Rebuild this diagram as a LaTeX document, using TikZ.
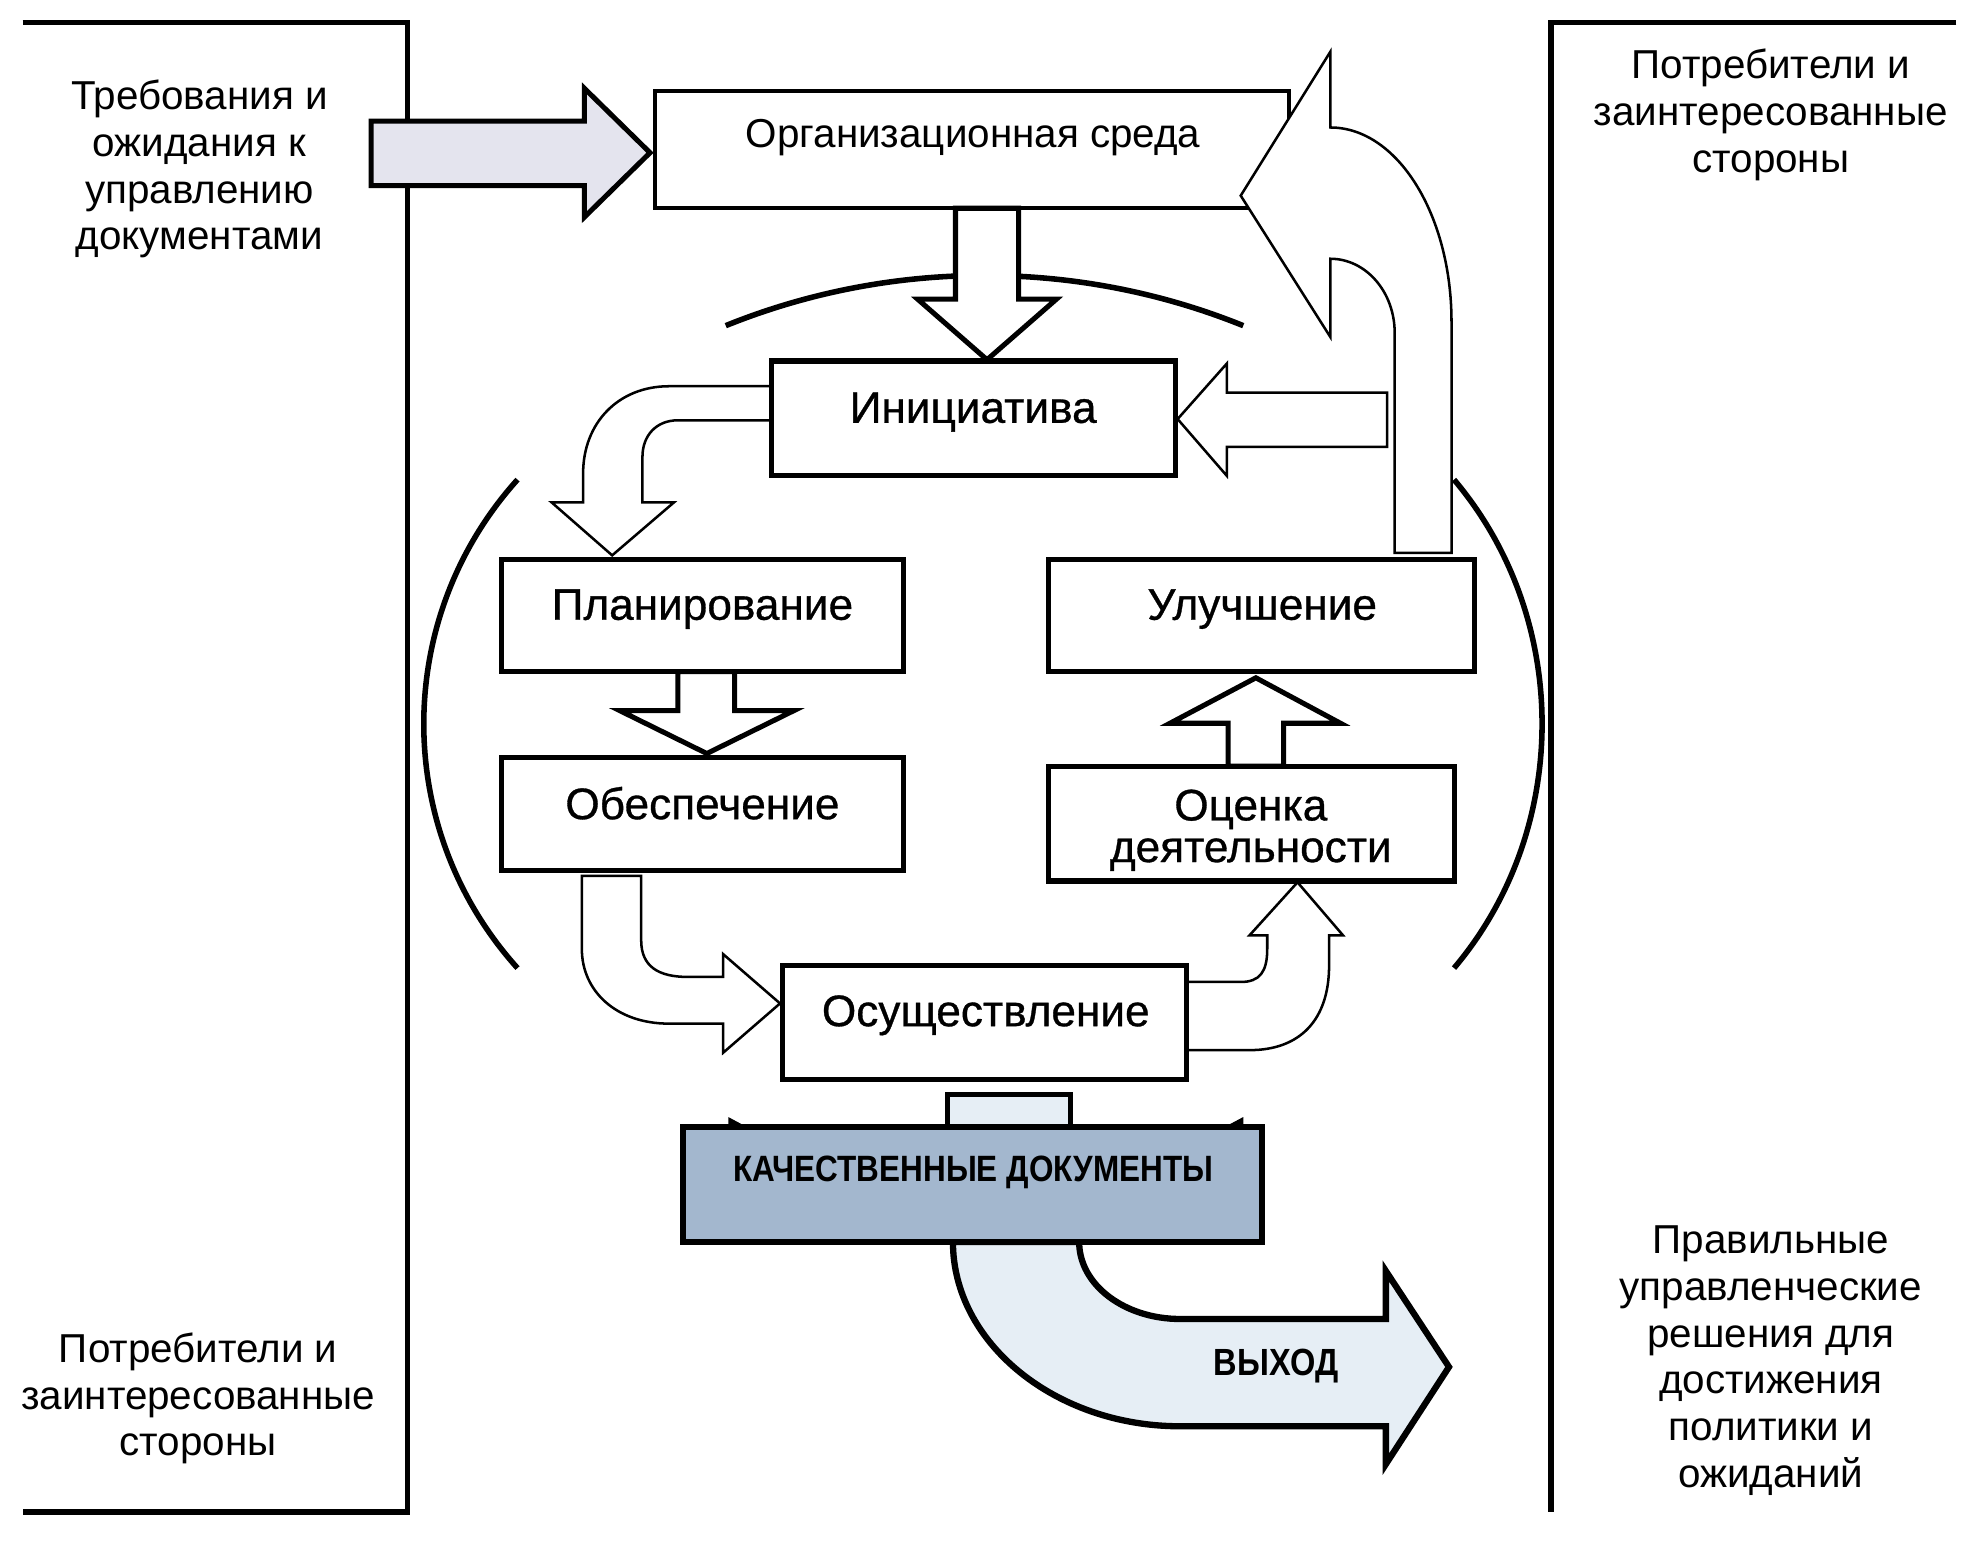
\documentclass[tikz,border=0pt]{standalone}
\usepackage{fontspec}
\setmainfont{Liberation Sans}
\newfontfamily\condfont[FakeStretch=0.86]{Liberation Sans}
\newfontfamily\lblfont[FakeBold=0.7]{Liberation Sans}
\usetikzlibrary{calc}
\definecolor{inarrow}{HTML}{E4E4EE}
\definecolor{kachfill}{HTML}{A3B7CE}
\definecolor{outfill}{HTML}{E6EEF5}
\begin{document}
\begin{tikzpicture}[x=0.5pt,y=-0.5pt,
  frame/.style={line width=2.2pt},
  side/.style={align=center,inner sep=0pt,font=\fontsize{16}{18.5}\selectfont},
  box/.style={draw,line width=2pt,fill=white,inner sep=0pt},
  lbl/.style={inner sep=0pt,anchor=base,font=\lblfont\fontsize{17.5}{16.5}\selectfont},
  thickarrow/.style={draw,line width=2pt,fill=white,line join=miter},
  thinarrow/.style={draw,line width=1pt,fill=white,line join=miter},
  arcst/.style={line width=2.2pt}]
\useasboundingbox (0,0) rectangle (1560,1221);

% frames
\draw[frame] (18,18) -- (323,18) -- (323,1198) -- (18,1198);
\draw[frame] (1550,18) -- (1229,18) -- (1229,1198);

% side texts
\node[side] (req) at (158,134) {Требования и\\ожидания к\\управлению\\документами};
\node[side] (cons1) at (1403,91) {Потребители и\\заинтересованные\\стороны};
\node[side] (cons2) at (157,1108) {Потребители и\\заинтересованные\\стороны};
\node[side] (res) at (1403,1078) {Правильные\\управленческие\\решения для\\достижения\\политики и\\ожиданий};

% input arrow
\draw[thickarrow,fill=inarrow] (294,96) -- (463,96) -- (463,70) -- (515,121) -- (463,172) -- (463,147) -- (294,147) -- cycle;

% organisational environment
\node[box,line width=1.6pt,minimum width=251pt,minimum height=46.5pt] (org) at (770,118.5) {};
\node[lbl,font=\fontsize{16}{18}\selectfont] (orgT) at (771,117) {Организационная среда};

% U arrow back to the environment
\draw[thinarrow] (1105,438) -- (1105,264) .. controls (1105,231) and (1082,205) .. (1054,205) -- (1054,267) -- (983,155) -- (1054,41) -- (1054,101) .. controls (1107,101) and (1150,170) .. (1150,255) -- (1150,438) -- cycle;

% arcs
\draw[arcst] (575,258) .. controls (706,205) and (854,205) .. (985,258);
\draw[arcst] (410,380) .. controls (311,490) and (311,657) .. (410,767);
\draw[arcst] (1152,380) .. controls (1245,490) and (1245,657) .. (1152,767);

% org -> initiative
\draw[thickarrow] (757,165) -- (807,165) -- (807,237) -- (837,237) -- (782,285) -- (727,237) -- (757,237) -- cycle;

% initiative -> planning (curved)
\draw[thinarrow] (611,306) -- (530,306) .. controls (490,306) and (462,335) .. (462,375) -- (462,398) -- (437,398) -- (485,440) -- (534,398) -- (509,398) -- (509,362) .. controls (509,345) and (520,333) .. (537,333) -- (611,333) -- cycle;

% improvement -> initiative (straight)
\draw[thinarrow] (1099,311) -- (972,311) -- (972,288) -- (933,332) -- (972,377) -- (972,354) -- (1099,354) -- cycle;

% planning -> provision
\draw[thickarrow] (537,532) -- (537,563) -- (491,563) -- (560,597) -- (629,563) -- (582,563) -- (582,532) -- cycle;

% evaluation -> improvement
\draw[thickarrow] (973,607) -- (973,573) -- (927,573) -- (995,537) -- (1062,573) -- (1017,573) -- (1017,607) -- cycle;

% provision -> implementation (curved)
\draw[thinarrow] (461,694) -- (508,694) -- (508,745) .. controls (508,766) and (522,774) .. (545,774) -- (573,774) -- (573,756) -- (618,795) -- (573,834) -- (573,811) -- (530,811) .. controls (488,811) and (461,785) .. (461,752) -- cycle;

% implementation -> evaluation (curved)
\draw[thinarrow] (940,778) -- (983,778) .. controls (998,778) and (1004,770) .. (1004,752) -- (1004,741) -- (990,741) -- (1028,699) -- (1064,741) -- (1053,741) -- (1053,765) .. controls (1053,808) and (1030,832) .. (990,832) -- (940,832) -- cycle;

% boxes
\node[box,minimum width=160pt,minimum height=45.5pt] (ini) at (771,331.5) {};
\node[lbl] (iniT) at (771,335) {Инициатива};
\node[box,minimum width=159.5pt,minimum height=44.5pt] (plan) at (556.5,487.5) {};
\node[lbl] (planT) at (556.5,491) {Планирование};
\node[box,minimum width=168.5pt,minimum height=44.5pt] (impr) at (999.5,487.5) {};
\node[lbl] (imprT) at (1000,491) {Улучшение};
\node[box,minimum width=159.5pt,minimum height=45pt] (prov) at (556.5,645) {};
\node[lbl] (provT) at (556.5,649) {Обеспечение};
\node[box,minimum width=160.5pt,minimum height=45.5pt] (eval) at (991.5,652.5) {};
\node[lbl,align=center] (evalT) at (991,683) {Оценка\\деятельности};
\node[box,minimum width=160pt,minimum height=45pt] (impl) at (780,810) {};
\node[lbl] (implT) at (781,813) {Осуществление};

% output arrow
\draw[line width=2.5pt,fill=outfill,line join=miter] (755,984) .. controls (755,1064) and (836,1130) .. (935,1130) -- (1098,1130) -- (1098,1160) -- (1148,1083) -- (1098,1007) -- (1098,1045) -- (935,1045) .. controls (891,1045) and (855,1018) .. (855,984) -- cycle;
\node[inner sep=0pt,anchor=base,font=\condfont\bfseries\fontsize{15}{17}\selectfont] (outT) at (1011,1090) {ВЫХОД};

% quality documents
\draw[line width=2pt,fill=outfill] (751,893) rectangle (848,867);
\fill (577,893) -- (577,885) -- (592,893) -- cycle;
\fill (985,893) -- (985,885) -- (970,893) -- cycle;
\node[box,line width=2.5pt,fill=kachfill,minimum width=229.5pt,minimum height=45.5pt] (kach) at (770.5,938.5) {};
\node[inner sep=0pt,anchor=base,font=\condfont\bfseries\fontsize{14.5}{16}\selectfont] (kachT) at (771,936) {КАЧЕСТВЕННЫЕ ДОКУМЕНТЫ};
\end{tikzpicture}
\end{document}
